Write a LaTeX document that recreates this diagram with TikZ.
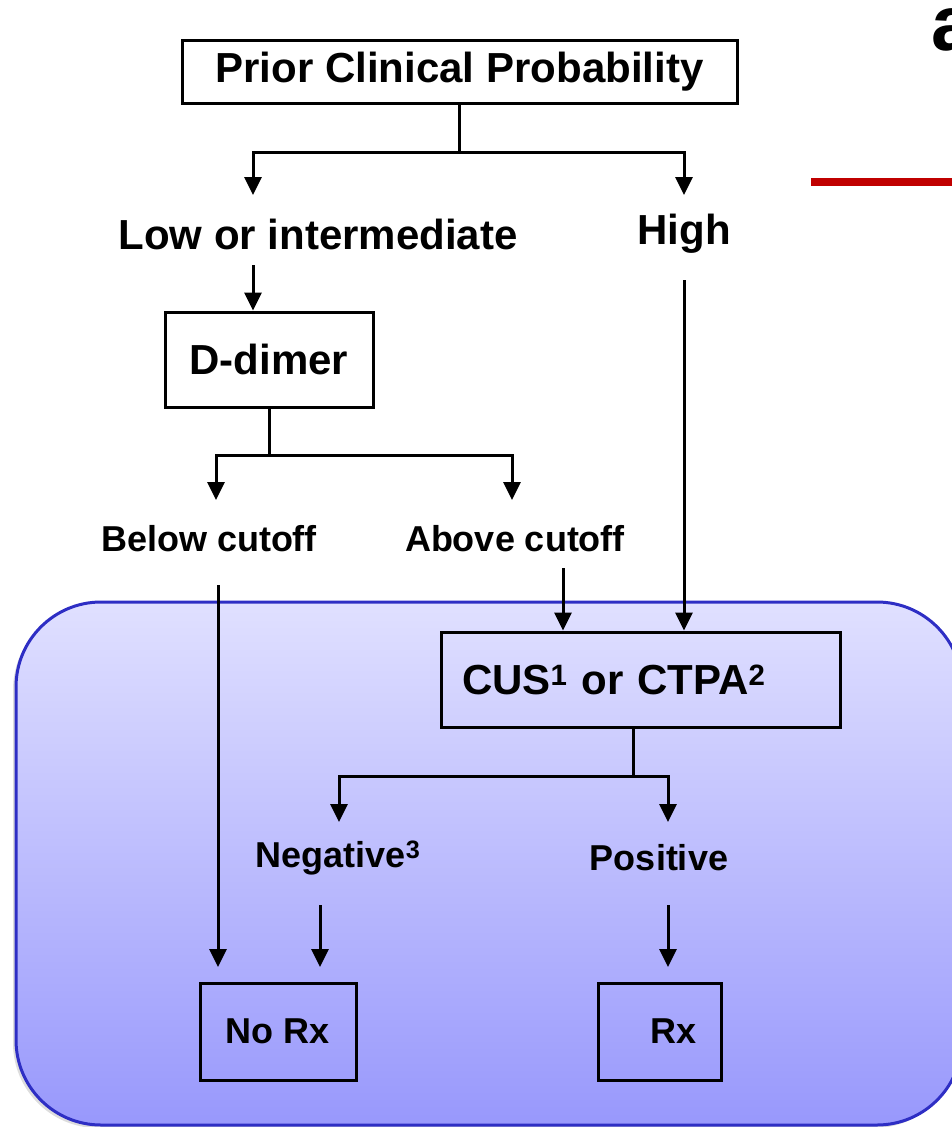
\documentclass[tikz,border=0pt]{standalone}
\usepackage{fontspec}
\setmainfont{Liberation Sans}
\usetikzlibrary{arrows.meta}
\definecolor{frameblue}{RGB}{46,46,196}
\definecolor{shadetop}{RGB}{224,224,255}
\definecolor{shadebottom}{RGB}{152,152,252}
\definecolor{barred}{RGB}{192,0,0}
\tikzset{
	bigfont/.style = {font=\bfseries\fontsize{42}{48}\selectfont},
	smallfont/.style = {font=\bfseries\fontsize{36}{42}\selectfont},
	box/.style = {draw = black, line width =3pt, inner sep=0pt, bigfont},
	choice/.style = {inner sep=0pt, bigfont},
	link/.style = {line width =3pt},
	linkarrow/.style = {link, -{Triangle[width=17pt, length=18pt]}}
}
\begin{document}
\begin{tikzpicture}[x=1pt, y=-1pt]
	\useasboundingbox (0,0) rectangle (952,1127);
	
	\fill[gray!45, opacity=0.6, rounded corners=85pt] (13,605) rectangle (959,1128);
	
	\shadedraw[top color = shadetop, bottom color = shadebottom, draw = frameblue, line width =3pt, rounded corners=85pt] (16,602) rectangle (962,1125);
	
	\fill[barred] (811,178) rectangle (960,186);
	
	\node[anchor=base west, inner sep=0pt, font=\bfseries\fontsize{78}{80}\selectfont] (panel) at (931,50) {a};
	
	\node[box, minimum width=555pt, minimum height=63pt] (prior) at (459.5,71.5) {Prior Clinical Probability};
	\node[choice] (low) at (318,234) {Low or intermediate};
	\node[choice] (high) at (684,234) {High};
	\node[box, minimum width=208pt, minimum height=95pt] (ddimer) at (269,359.5) {D-dimer};
	\node[choice, smallfont] (below) at (209,539) {Below cutoff};
	\node[choice, smallfont] (above) at (515,539) {Above cutoff};
	\node[box, minimum width=399pt, minimum height=95pt, text width=357pt, align=left] (cus) at (640.5,679.5) {CUS\textsuperscript{1} or CTPA\textsuperscript{2}};
	\node[choice, smallfont] (negative) at (338,858) {Negative\textsuperscript{3}};
	\node[choice, smallfont] (positive) at (659,858) {Positive};
	\node[box, smallfont, minimum width=156pt, minimum height=97pt] (norx) at (278,1031.5) {No Rx};
	\node[box, smallfont, minimum width=123pt, minimum height=97pt, text width=75pt, align=right] (rx) at (659.5,1031.5) {Rx};
	
	\coordinate (fork1) at (459.5,152);
	\coordinate (lowtip) at (253,195);
	\coordinate (hightip) at (684,195);
	\draw[link] (prior.south) -- (fork1);
	\draw[linkarrow] (fork1) -| (lowtip);
	\draw[linkarrow] (fork1) -| (hightip);
	
	\coordinate (lowout) at (253,265);
	\draw[linkarrow] (lowout) -- (lowout |- ddimer.north);
	
	\coordinate (fork2) at (269,455);
	\coordinate (belowtip) at (216,500);
	\coordinate (abovetip) at (512,500);
	\draw[link] (ddimer.south) -- (fork2);
	\draw[linkarrow] (fork2) -| (belowtip);
	\draw[linkarrow] (fork2) -| (abovetip);
	
	\coordinate (belowout) at (218,585);
	\coordinate (aboveout) at (563,568);
	\coordinate (highout) at (684,280);
	\draw[linkarrow] (belowout) -- (218,967);
	\draw[linkarrow] (aboveout) -- (aboveout |- cus.north);
	\draw[linkarrow] (highout) -- (highout |- cus.north);
	
	\coordinate (cusout) at (633,727);
	\coordinate (fork3) at (633,776);
	\coordinate (negtip) at (339,822);
	\coordinate (postip) at (668,822);
	\draw[link] (cusout) -- (fork3);
	\draw[linkarrow] (fork3) -| (negtip);
	\draw[linkarrow] (fork3) -| (postip);
	
	\coordinate (negout) at (320,905);
	\coordinate (posout) at (668,905);
	\draw[linkarrow] (negout) -- (320,967);
	\draw[linkarrow] (posout) -- (668,967);
	
\end{tikzpicture}
\end{document}
